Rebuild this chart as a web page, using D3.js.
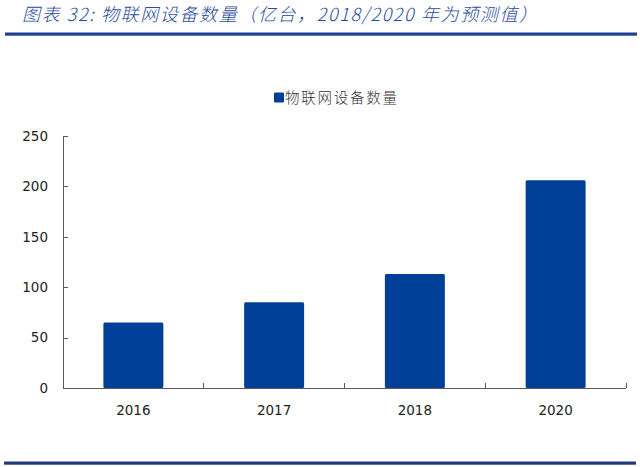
<!DOCTYPE html>
<html lang="zh">
<head>
    <meta charset="UTF-8">
    <title>物联网设备数量</title>
    <script src="https://d3js.org/d3.v7.min.js"></script>
    <style>
        html, body { margin: 0; padding: 0; background: #fff; }
        .tick-label { font-family: "DejaVu Sans", Verdana, sans-serif; font-size: 13.5px; fill: #222; }
        .axis-line { stroke: #595959; stroke-width: 1; shape-rendering: crispEdges; }
    </style>
</head>
<body>
    <svg width="640" height="467"></svg>

    <script>
        // podaci
        const categories = ["2016", "2017", "2018", "2020"];
        const values = [65, 85, 113, 206];
        const yTicks = [0, 50, 100, 150, 200, 250];
        const seriesName = "物联网设备数量";
        const title = "图表 32:  物联网设备数量（亿台，2018/2020 年为预测值）";

        const width = 640, height = 467;
        const plot = { left: 63, right: 626, top: 136, bottom: 388 };
        const barColor = "#003f98";

        const svg = d3.select("svg");

        // naslov i linije
        svg.append("text")
            .attr("x", 22).attr("y", 21)
            .attr("textLength", 515).attr("lengthAdjust", "spacing")
            .style("font-family", "'Noto Sans CJK SC', sans-serif")
            .style("font-style", "italic")
            .style("font-weight", "300")
            .style("font-size", "18px")
            .style("fill", "#2a4b9b")
            .text(title);

        svg.append("rect")
            .attr("x", 5).attr("y", 32.5).attr("width", 632).attr("height", 3.2)
            .attr("fill", "#1d4193");

        svg.append("rect")
            .attr("x", 4).attr("y", 461.5).attr("width", 632).attr("height", 3.2)
            .attr("fill", "#1f3a80");

        // skale
        const x = d3.scaleBand()
            .domain(categories)
            .range([plot.left, plot.right])
            .paddingInner(0.574)
            .paddingOuter(0.287);

        const y = d3.scaleLinear()
            .domain([0, 250])
            .range([plot.bottom, plot.top]);

        // stupci
        svg.selectAll(".bar")
            .data(categories)
            .enter()
            .append("rect")
            .attr("class", "bar")
            .attr("x", d => x(d))
            .attr("y", (d, i) => y(values[i]))
            .attr("width", x.bandwidth())
            .attr("height", (d, i) => y(0) - y(values[i]))
            .attr("rx", 1.5)
            .attr("fill", barColor);

        // os Y
        const yAxis = svg.append("g")
            .attr("transform", `translate(${plot.left},0)`)
            .call(d3.axisRight(y).tickValues(yTicks).tickSize(5).tickFormat(""));
        yAxis.select(".domain").attr("class", "axis-line").attr("stroke", null);
        yAxis.selectAll(".tick line").attr("class", "axis-line").attr("stroke", null);

        svg.selectAll(".ylabel")
            .data(yTicks)
            .enter()
            .append("text")
            .attr("class", "tick-label")
            .attr("x", plot.left - 15)
            .attr("y", d => y(d))
            .attr("dy", "0.36em")
            .attr("text-anchor", "end")
            .text(d => d);

        // os X
        const step = x.step();
        const boundaries = categories.map(d => x(d) - step * x.paddingInner() / 2);
        boundaries.push(plot.right);

        svg.append("line")
            .attr("class", "axis-line")
            .attr("x1", plot.left).attr("x2", plot.right)
            .attr("y1", y(0)).attr("y2", y(0));

        svg.selectAll(".xtick")
            .data(boundaries)
            .enter()
            .append("line")
            .attr("class", "axis-line")
            .attr("x1", d => d).attr("x2", d => d)
            .attr("y1", y(0)).attr("y2", y(0) - 5);

        svg.selectAll(".xlabel")
            .data(categories)
            .enter()
            .append("text")
            .attr("class", "tick-label")
            .attr("x", d => x(d) + x.bandwidth() / 2)
            .attr("y", y(0) + 27)
            .attr("text-anchor", "middle")
            .text(d => d);

        // legenda
        svg.append("rect")
            .attr("x", 274).attr("y", 92.5).attr("width", 10).attr("height", 10)
            .attr("rx", 1)
            .attr("fill", barColor);

        svg.append("text")
            .attr("x", 285).attr("y", 102.5)
            .attr("textLength", 112).attr("lengthAdjust", "spacing")
            .style("font-family", "'Noto Sans CJK SC', sans-serif")
            .style("font-weight", "300")
            .style("font-size", "14.5px")
            .style("fill", "#333")
            .text(seriesName);
    </script>
</body>
</html>
